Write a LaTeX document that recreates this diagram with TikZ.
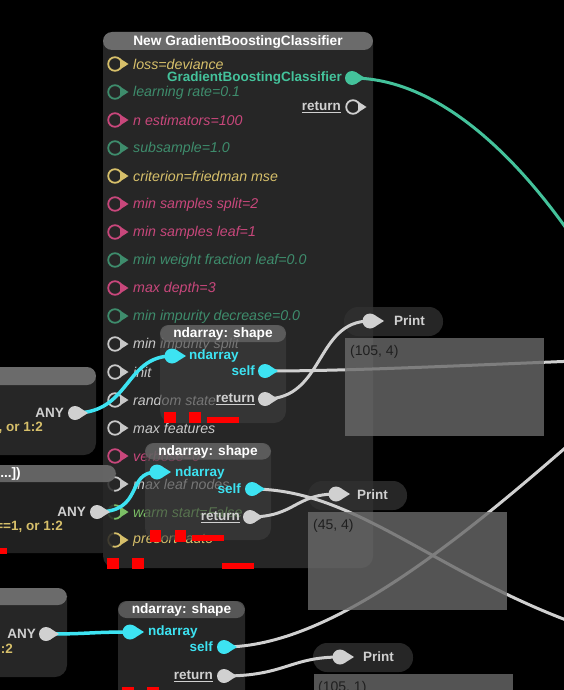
\documentclass[tikz,border=0pt]{standalone}
\usepackage{fontspec}
\setmainfont{Liberation Sans}
\definecolor{bodyc}{HTML}{262626}
\definecolor{hdrc}{HTML}{6B6B6B}
\definecolor{ylw}{HTML}{D6BF6A}
\definecolor{grn}{HTML}{3E8C6C}
\definecolor{pnk}{HTML}{C8477B}
\definecolor{lgr}{HTML}{C8C8C8}
\definecolor{wgr}{HTML}{7CBF66}
\definecolor{tealc}{HTML}{44C29B}
\definecolor{cyn}{HTML}{3DE3F2}
\definecolor{wire}{HTML}{D0D0D0}
\definecolor{boxc}{HTML}{6A6A6A}
\definecolor{ndb}{HTML}{3F3F3F}
\definecolor{pillc}{HTML}{303030}
\definecolor{redc}{HTML}{FF0000}
\tikzset{
  ringport/.pic={\draw[line width=1.8pt] (0,0) circle (6.8); \fill (5,-5.5) -- (13.5,0) -- (5,5.5) -- cycle;},
  dropport/.pic={\fill (0,0) circle (7); \fill (3.8,-5.9) -- (13,0) -- (3.8,5.9) -- cycle;},
  inport/.pic={\fill (0,0) circle (7.5); \fill (4,-6.3) -- (14,0) -- (4,6.3) -- cycle;},
  param/.style={anchor=west, inner sep=0pt, font=\fontsize{14.2}{15}\selectfont\itshape},
  lbl/.style={inner sep=0pt, font=\fontsize{13.5}{14}\selectfont\bfseries},
  ttl/.style={inner sep=0pt, text=white, font=\fontsize{13.7}{14}\selectfont\bfseries},
  nbody/.style={fill=ndb, opacity=0.6, rounded corners=12pt},
  nhdr/.style={fill=hdrc, opacity=0.72, rounded corners=8.5pt},
  pillbox/.style={fill=pillc, opacity=0.8, rounded corners=14pt},
  outbox/.style={fill=boxc, opacity=0.8},
  outtxt/.style={anchor=west, inner sep=0pt, text=black!88, font=\fontsize{14}{15}\selectfont},
  gwire/.style={draw=wire, line width=3pt},
  cwire/.style={draw=cyn, line width=3.5pt},
  twire/.style={draw=tealc, line width=3pt},
  redmark/.style={fill=redc},
}
\begin{document}
\begin{tikzpicture}[x=1pt,y=-1pt]
\useasboundingbox (0,0) rectangle (564,690);
\clip (0,0) rectangle (564,690);
\fill[black] (0,0) rectangle (564,690);

% ---------- main node ----------
\fill[bodyc, rounded corners=12pt] (103,32) rectangle (373,568);
\fill[hdrc, rounded corners=9pt] (103,32) rectangle (373,50);
\node[ttl] (mainT) at (238,41.5) {New GradientBoostingClassifier};
\foreach \i/\c/\t in {0/ylw/loss=deviance, 1/grn/learning rate=0.1, 2/pnk/n estimators=100,
  3/grn/subsample=1.0, 4/ylw/criterion=friedman mse, 5/pnk/min samples split=2,
  6/pnk/min samples leaf=1, 7/grn/min weight fraction leaf=0.0, 8/pnk/max depth=3,
  9/grn/min impurity decrease=0.0, 10/lgr/min impurity split, 11/lgr/init,
  12/lgr/random state, 13/lgr/max features, 14/pnk/verbose=0, 15/lgr/max leaf nodes,
  16/wgr/warm start=False, 17/ylw/presort=auto} {
  \coordinate (pin\i) at (115,{64+28*\i});
  \pic[color=\c] at (pin\i) {ringport};
  \node[param, text=\c] (par\i) at (133,{64.5+28*\i}) {\t};
}
\coordinate (gbcOut) at (352,78);
\node[lbl, text=tealc, anchor=east] (gbcT) at (342,78) {GradientBoostingClassifier};
\coordinate (retOut) at (353,107);
\node[lbl, text=wire, anchor=east] (retT) at (341,107) {\underline{return}};
\pic[color=wire] at (retOut) {ringport};

% ---------- left nodes ----------
\fill[bodyc, rounded corners=12pt] (-30,367) rectangle (96,455);
\fill[hdrc, rounded corners=9pt] (-30,367) rectangle (96,385);
\coordinate (anyA) at (75,413);
\node[lbl, text=wire, anchor=east] (anyAT) at (64,413) {ANY};
\node[lbl, text=ylw, anchor=east] (anyAV) at (43,428) {, or 1:2};

\fill[bodyc, opacity=0.85, rounded corners=12pt] (-30,465) rectangle (114,553);
\fill[hdrc, opacity=0.9, rounded corners=9pt] (-30,465) rectangle (116,482);
\node[ttl, anchor=east] (bT) at (21,474) {[...])};
\coordinate (anyB) at (97,512);
\node[lbl, text=wire, anchor=east] (anyBT) at (86,512) {ANY};
\node[lbl, text=ylw, anchor=east] (anyBV) at (63,527) {==1, or 1:2};

\fill[bodyc, rounded corners=12pt] (-30,588) rectangle (67,677);
\fill[hdrc, rounded corners=9pt] (-30,588) rectangle (67,605);
\coordinate (anyC) at (46,634);
\node[lbl, text=wire, anchor=east] (anyCT) at (36,634) {ANY};
\node[lbl, text=ylw, anchor=east] (anyCV) at (13,649) {:2};

% ---------- ndarray: shape nodes ----------
\fill[nbody] (160,325) rectangle (286,423);
\fill[nhdr] (160,325) rectangle (286,342);
\node[ttl] (n1T) at (223,333.5) {ndarray: shape};
\coordinate (nd1in) at (172,356);
\node[lbl, text=cyn, anchor=west] (nd1inT) at (189,356) {ndarray};
\coordinate (nd1self) at (265,371);
\node[lbl, text=cyn, anchor=east] (nd1selfT) at (255,371) {self};
\coordinate (nd1ret) at (265,399);
\node[lbl, text=wire, anchor=east] (nd1retT) at (255,399) {\underline{return}};

\fill[nbody] (145,443) rectangle (271,540);
\fill[nhdr] (145,443) rectangle (271,459.5);
\node[ttl] (n2T) at (208,451.5) {ndarray: shape};
\coordinate (nd2in) at (157,472);
\node[lbl, text=cyn, anchor=west] (nd2inT) at (175,473) {ndarray};
\coordinate (nd2self) at (252,489);
\node[lbl, text=cyn, anchor=east] (nd2selfT) at (241,489) {self};
\coordinate (nd2ret) at (250,517);
\node[lbl, text=wire, anchor=east] (nd2retT) at (240,517) {\underline{return}};

\fill[nbody] (118,601) rectangle (245,705);
\fill[nhdr] (118,601) rectangle (245,618);
\node[ttl] (n3T) at (181.5,610) {ndarray: shape};
\coordinate (nd3in) at (130,632);
\node[lbl, text=cyn, anchor=west] (nd3inT) at (148,632) {ndarray};
\coordinate (nd3self) at (224,647);
\node[lbl, text=cyn, anchor=east] (nd3selfT) at (213,647) {self};
\coordinate (nd3ret) at (224,676);
\node[lbl, text=wire, anchor=east] (nd3retT) at (213,676) {\underline{return}};

% ---------- Print pills ----------
\fill[pillbox] (344,307) rectangle (443,336);
\coordinate (pr1in) at (370,321);
\node[lbl, text=wire, anchor=west] (pr1T) at (394,321) {Print};
\fill[pillbox] (308,481) rectangle (407,510);
\coordinate (pr2in) at (336,494);
\node[lbl, text=wire, anchor=west] (pr2T) at (357,495) {Print};
\fill[pillbox] (313,643) rectangle (413,672);
\coordinate (pr3in) at (340,657);
\node[lbl, text=wire, anchor=west] (pr3T) at (363,657) {Print};

% ---------- connectors ----------
\coordinate (gbcEnd) at (600,280);
\coordinate (selfEnd1) at (600,360);
\coordinate (selfEnd2) at (600,632);
\coordinate (selfEnd3) at (580,435);
\draw[twire] (gbcOut) .. controls (450,78) and (540,180) .. (gbcEnd);
\draw[gwire] (nd1ret) .. controls (325,399) and (315,321) .. (pr1in);
\draw[gwire] (nd1self) .. controls (350,371) and (450,366) .. (selfEnd1);
\draw[gwire] (nd2self) .. controls (360,489) and (440,580) .. (selfEnd2);
\draw[gwire] (nd2ret) .. controls (295,517) and (295,494) .. (pr2in);
\draw[gwire] (nd3self) .. controls (330,647) and (460,540) .. (selfEnd3);
\draw[gwire] (nd3ret) .. controls (285,676) and (290,657) .. (pr3in);
\draw[cwire] (anyA) .. controls (130,413) and (125,356) .. (nd1in);
\draw[cwire] (anyB) .. controls (145,512) and (125,472) .. (nd2in);
\draw[cwire] (anyC) .. controls (90,634) and (90,632) .. (nd3in);

% ---------- port glyphs ----------
\pic[color=tealc] at (gbcOut) {dropport};
\pic[color=wire] at (anyA) {dropport};
\pic[color=wire] at (anyB) {dropport};
\pic[color=wire] at (anyC) {dropport};
\pic[color=cyn] at (nd1self) {dropport};
\pic[color=cyn] at (nd2self) {dropport};
\pic[color=cyn] at (nd3self) {dropport};
\pic[color=wire] at (nd1ret) {dropport};
\pic[color=wire] at (nd2ret) {dropport};
\pic[color=wire] at (nd3ret) {dropport};
\pic[color=cyn] at (nd1in) {inport};
\pic[color=cyn] at (nd2in) {inport};
\pic[color=cyn] at (nd3in) {inport};
\pic[color=wire] at (pr1in) {inport};
\pic[color=wire] at (pr2in) {inport};
\pic[color=wire] at (pr3in) {inport};

% ---------- output boxes ----------
\fill[outbox] (345,338) rectangle (544,436);
\node[outtxt] (o1) at (350,352) {(105, 4)};
\fill[outbox] (308,512) rectangle (507,610);
\node[outtxt] (o2) at (313,526) {(45, 4)};
\fill[outbox] (314,674) rectangle (513,700);
\node[outtxt] (o3) at (318,688) {(105, 1)};

% ---------- red marks ----------
\fill[redmark] (164,412) rectangle (176,423);
\fill[redmark] (189,412) rectangle (201,423);
\fill[redmark] (207,417) rectangle (239,423);
\fill[redmark] (150,530) rectangle (161,542);
\fill[redmark] (175,530) rectangle (186,542);
\fill[redmark] (192,535) rectangle (224,541);
\fill[redmark] (107,558) rectangle (119,569);
\fill[redmark] (132,558) rectangle (144,569);
\fill[redmark] (222,563) rectangle (254,569);
\fill[redmark] (0,548) rectangle (7,554);
\fill[redmark] (122,687) rectangle (134,690);
\fill[redmark] (147,687) rectangle (159,690);
\end{tikzpicture}
\end{document}
